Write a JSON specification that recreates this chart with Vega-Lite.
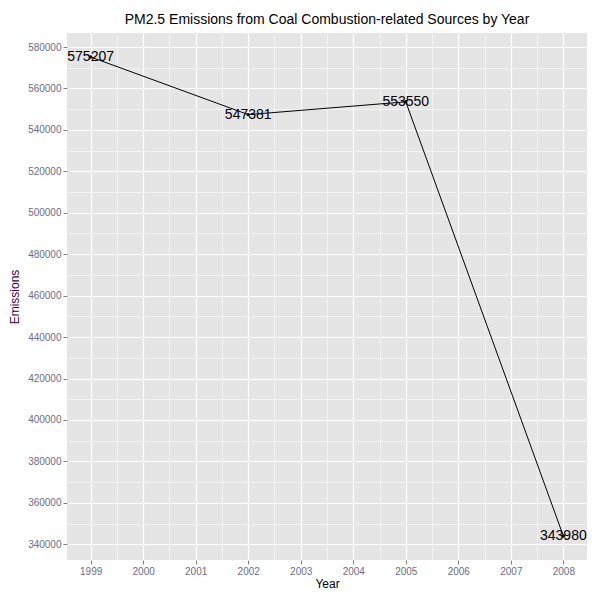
{
  "$schema": "https://vega.github.io/schema/vega-lite/v6.json",
  "autosize": "none",
  "padding": {"left": 67, "top": 33, "right": 13, "bottom": 40},
  "width": 520,
  "height": 527,
  "background": "white",
  "title": {"text": "PM2.5 Emissions from Coal Combustion-related Sources by Year", "fontSize": 14, "fontWeight": "normal", "font": "Liberation Sans", "color": "black", "offset": 6},
  "config": {
    "view": {"fill": "#E5E5E5", "stroke": null},
    "axis": {"domain": false, "gridColor": "white", "labelColor": "#6B6B8B", "labelFont": "Liberation Sans", "labelFontSize": 10, "titleFont": "Liberation Sans", "titleFontSize": 12, "titleFontWeight": "normal", "titleColor": "black", "tickColor": "#7F7F7F", "tickSize": 4}
  },
  "data": {"values": [
    {"year": 1999, "Emissions": 575207},
    {"year": 2002, "Emissions": 547381},
    {"year": 2005, "Emissions": 553550},
    {"year": 2008, "Emissions": 343980}
  ]},
  "encoding": {
    "x": {"field": "year", "type": "quantitative", "title": "Year",
      "scale": {"domain": [1998.55, 2008.45], "nice": false, "zero": false},
      "axis": {"values": [1999, 1999.5, 2000, 2000.5, 2001, 2001.5, 2002, 2002.5, 2003, 2003.5, 2004, 2004.5, 2005, 2005.5, 2006, 2006.5, 2007, 2007.5, 2008, 2008.5],
        "labelExpr": "datum.value % 1 == 0 ? datum.value : ''",
        "gridWidth": {"condition": {"test": "datum.value % 1 == 0", "value": 1.2}, "value": 0.5},
        "tickOpacity": {"condition": {"test": "datum.value % 1 == 0", "value": 1}, "value": 0},
        "titlePadding": 2, "labelPadding": 2}},
    "y": {"field": "Emissions", "type": "quantitative", "title": "Emissions",
      "scale": {"domain": [332419, 586768], "nice": false, "zero": false},
      "axis": {"values": [340000, 350000, 360000, 370000, 380000, 390000, 400000, 410000, 420000, 430000, 440000, 450000, 460000, 470000, 480000, 490000, 500000, 510000, 520000, 530000, 540000, 550000, 560000, 570000, 580000],
        "labelExpr": "datum.value % 20000 == 0 ? datum.value : ''",
        "gridWidth": {"condition": {"test": "datum.value % 20000 == 0", "value": 1.2}, "value": 0.5},
        "tickOpacity": {"condition": {"test": "datum.value % 20000 == 0", "value": 1}, "value": 0},
        "titleColor": "#3A0040", "titlePadding": 6, "labelPadding": 2}}
  },
  "layer": [
    {"mark": {"type": "line", "color": "black", "strokeWidth": 1}},
    {"mark": {"type": "circle", "color": "black", "size": 12, "opacity": 1}},
    {"mark": {"type": "text", "fontSize": 14, "font": "Liberation Sans", "color": "black"},
     "encoding": {"text": {"field": "Emissions", "type": "quantitative", "format": "d"}}}
  ]
}
